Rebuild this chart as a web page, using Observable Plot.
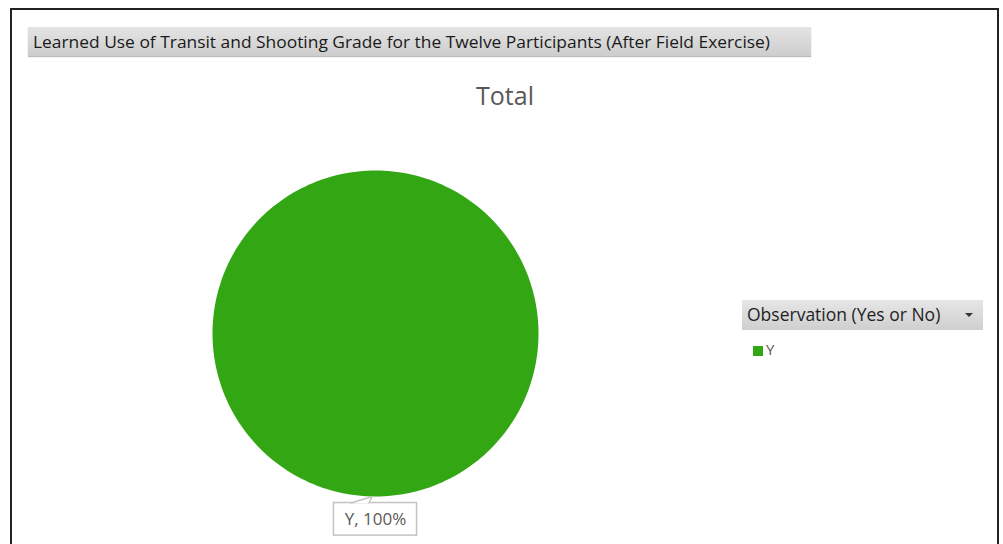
<!DOCTYPE html>
<html>
<head>
<meta charset="utf-8">
<script src="https://cdn.jsdelivr.net/npm/d3@7"></script>
<script src="https://cdn.jsdelivr.net/npm/@observablehq/plot@0.6"></script>
<style>
  html, body { margin: 0; padding: 0; background: #fff; }
  #wrap { position: relative; width: 1003px; height: 544px; overflow: hidden; background: #fff; font-family: "Open Sans", "Noto Sans", sans-serif; }
  #frame { position: absolute; left: 10px; top: 8px; width: 989px; height: 620px; border: 2px solid #222; box-sizing: border-box; }
  #titlebar { position: absolute; left: 28px; top: 27px; width: 783px; height: 29px; background: linear-gradient(to bottom, #e4e4e4, #cdcdcd); box-shadow: 0 1px 1px #bbb; }
  #total { position: absolute; left: 0; width: 1010px; top: 78px; text-align: center; font-size: 25px; color: #595959; }
  #leghead { position: absolute; left: 742px; top: 300px; width: 241px; height: 30px; background: linear-gradient(to bottom, #e6e6e6, #cfcfcf); }
  #leghead span { position: absolute; left: 5px; top: 2px; font-size: 17.5px; color: #1f1f1f; }
  #leghead i { position: absolute; left: 223px; top: 13px; width: 0; height: 0; border-left: 4px solid transparent; border-right: 4px solid transparent; border-top: 4px solid #333; }
  #legitem { position: absolute; left: 753px; top: 339px; font-size: 15px; color: #555; }
  #legitem b { display: inline-block; width: 10px; height: 10px; margin-right: 3px; vertical-align: -1px; }
  #chart { position: absolute; left: 0; top: 0; }
</style>
</head>
<body>
<div id="wrap">
  <div id="frame"></div>
  <div id="titlebar"><svg width="783" height="29"><text id="ttl" x="5" y="20.5" font-size="16.5" fill="#1a1a1a" font-family="Open Sans, Noto Sans, sans-serif" textLength="737" lengthAdjust="spacingAndGlyphs"></text></svg></div>
  <div id="total"></div>
  <div id="chart"></div>
  <div id="leghead"><span></span><i></i></div>
  <div id="legitem"></div>
</div>
<script>
const chartTitle = "Learned Use of Transit and Shooting Grade for the Twelve Participants (After Field Exercise)";
const pieTitle = "Total";
const legendTitle = "Observation (Yes or No)";
const categories = ["Y"];
const counts = [12];
const colors = ["#33a614"];

document.getElementById("ttl").textContent = chartTitle;
document.getElementById("total").textContent = pieTitle;
document.querySelector("#leghead span").textContent = legendTitle;
document.getElementById("legitem").innerHTML = categories.map((c, i) => `<span><b style="background:${colors[i]}"></b>${c}</span>`).join(" ");

const total = d3.sum(counts);
const arcs = d3.pie().sort(null)(counts);

// outline points for each slice, in unit-circle coordinates
const slicePts = [];
arcs.forEach((a, i) => {
  const full = a.endAngle - a.startAngle >= 2 * Math.PI - 1e-9;
  const n = 240;
  if (!full) slicePts.push({cat: categories[i], x: 0, y: 0});
  for (let k = 0; k <= n; k++) {
    const t = a.startAngle + (a.endAngle - a.startAngle) * k / n;
    slicePts.push({cat: categories[i], x: Math.sin(t), y: Math.cos(t)});
  }
});

const labels = arcs.map((a, i) => {
  const mid = (a.startAngle + a.endAngle) / 2;
  const lx = Math.sin(mid) * 1.14, ly = Math.cos(mid) * 1.14;
  return {
    cat: categories[i],
    text: `${categories[i]}, ${Math.round(counts[i] / total * 100)}%`,
    lx, ly, tipx: Math.sin(mid) * 1.0 - 0.02, tipy: Math.cos(mid) * 1.0
  };
});
const pointer = labels.flatMap(l => [
  {x: l.lx - 0.15, y: l.ly + 0.1, cat: l.cat},
  {x: l.tipx, y: l.tipy, cat: l.cat},
  {x: l.lx - 0.04, y: l.ly + 0.1, cat: l.cat}
]);

const plot = Plot.plot({
  width: 1003,
  height: 544,
  marginLeft: 212,
  marginRight: 465,
  marginTop: 170,
  marginBottom: 48,
  style: {background: "transparent", overflow: "visible"},
  x: {domain: [-1, 1], axis: null},
  y: {domain: [-1, 1], axis: null},
  color: {domain: categories, range: colors},
  marks: [
    Plot.line(slicePts, {x: "x", y: "y", z: "cat", fill: "cat", stroke: "none", curve: "linear"}),
    Plot.rect(labels, {x1: d => d.lx - 0.255, x2: d => d.lx + 0.255, y1: d => d.ly - 0.1, y2: d => d.ly + 0.1, fill: "white", stroke: "#c4c4c4", strokeWidth: 1.5}),
    Plot.line(pointer, {x: "x", y: "y", z: "cat", stroke: "#c4c4c4", strokeWidth: 1.5, fill: "white"}),
    Plot.text(labels, {x: "lx", y: "ly", text: "text", fontSize: 17, fill: "#595959", fontFamily: "Open Sans, Noto Sans, sans-serif"})
  ]
});
document.getElementById("chart").appendChild(plot);
</script>
</body>
</html>
